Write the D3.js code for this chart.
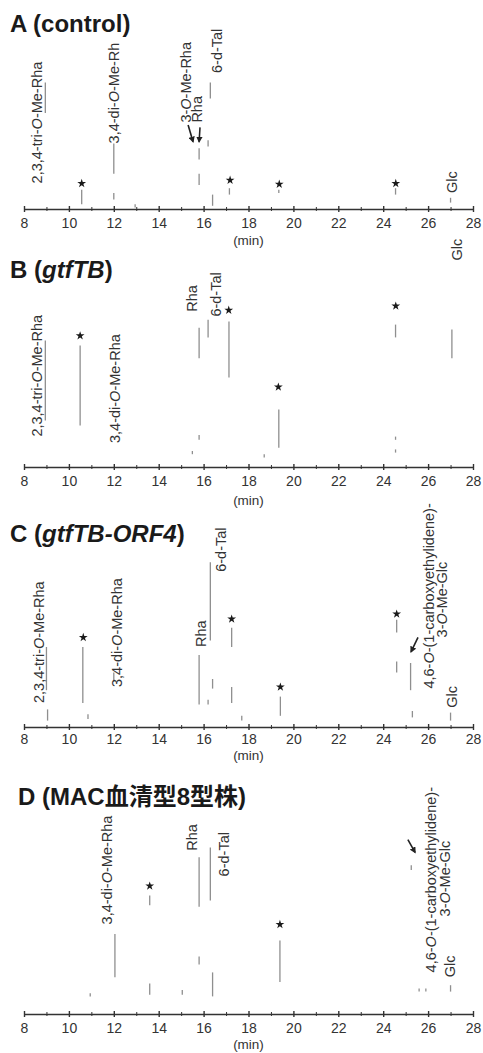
<!DOCTYPE html>
<html>
<head>
<meta charset="utf-8">
<script src="https://cdn.jsdelivr.net/npm/d3@7"></script>
<style>
  body { margin: 0; background: #fff; }
  text { font-family: "Liberation Sans", Arial, "Noto Sans CJK JP", sans-serif; }
</style>
</head>
<body>
<div id="chart"></div>
<script>
// Data
// time axis (min)
const tickValues = [8, 10, 12, 14, 16, 18, 20, 22, 24, 26, 28];
// titles, _x_ = italic
const titles = ["A (control)", "B (_gtfTB_)", "C (_gtfTB-ORF4_)", "D (MAC血清型8型株)"];

// peaks: [time, low, high] visible pieces of each peak trace (relative intensity)
const peaksA = [[8.95, 60, 79], [10.57, 3, 12], [12.0, 22, 41], [12.0, 6, 10], [12.95, 1, 3],
  [15.8, 31, 38], [15.8, 15, 22], [16.2, 39, 43], [16.3, 69, 79], [16.4, 2, 9],
  [17.15, 9, 13], [19.35, 10, 12], [24.55, 9, 13], [27.0, 4, 7]];
const peaksB = [[8.95, 29, 79], [10.5, 26, 76], [15.5, 8, 10], [15.8, 17, 20], [15.8, 68, 87],
  [16.2, 81, 92], [17.13, 56, 91], [18.7, 6, 8], [19.35, 12, 36],
  [24.55, 9, 11], [24.55, 17, 19], [24.55, 81, 89], [27.06, 68, 86]];
const peaksC = [[9.0, 23, 50], [9.05, 4, 11], [10.62, 15, 50], [10.85, 5, 8], [12.0, 29, 34],
  [15.8, 14, 45], [16.2, 14, 17], [16.3, 54, 103], [16.4, 24, 30],
  [17.25, 15, 25], [17.25, 50, 62], [17.7, 4, 7], [19.42, 7, 19],
  [24.6, 34, 41], [24.6, 59, 67], [25.22, 23, 40], [25.3, 6, 10], [27.0, 4, 9]];
const peaksD = [[10.95, 11, 13], [12.05, 23, 50], [13.6, 12, 19], [13.6, 68, 74], [15.05, 12, 15],
  [15.8, 31, 36], [15.8, 67, 98], [16.3, 71, 104], [16.4, 11, 26], [19.4, 20, 46],
  [25.25, 90, 93], [25.6, 14, 16], [25.9, 14, 16], [27.0, 14, 18]];

// star marks: [time, intensity]
const starsA = [[10.57, 16], [17.18, 18], [19.37, 15.5], [24.56, 16]];
const starsB = [[10.5, 82], [17.12, 98], [19.33, 50], [24.56, 100.6]];
const starsC = [[10.64, 56], [17.25, 67.5], [19.42, 25], [24.6, 70.6]];
const starsD = [[13.6, 80], [19.4, 56]];

// peak labels: [text, time, intensity]
const labelsA = [["2,3,4-tri-O-Me-Rha", 8.8, 16], ["3,4-di-O-Me-Rh", 12.25, 41],
  ["3-O-Me-Rha", 15.45, 54], ["Rha", 15.93, 54], ["6-d-Tal", 16.82, 85], ["Glc", 27.29, 10]];
const labelsB = [["2,3,4-tri-O-Me-Rha", 8.8, 19], ["3,4-di-O-Me-Rha", 12.28, 15],
  ["Rha", 15.7, 97], ["6-d-Tal", 16.78, 94], ["Glc", 27.5, 129]];
const labelsC = [["2,3,4-tri-O-Me-Rha", 8.9, 15], ["3,4-di-O-Me-Rha", 12.37, 25],
  ["Rha", 16.1, 50], ["6-d-Tal", 17.0, 97], ["4,6-O-(1-carboxyethylidene)-", 26.26, 24],
  ["3-O-Me-Glc", 26.84, 56], ["Glc", 27.29, 12]];
const labelsD = [["3,4-di-O-Me-Rha", 11.92, 56], ["Rha", 15.7, 102], ["6-d-Tal", 17.13, 86],
  ["4,6-O-(1-carboxyethylidene)-", 26.35, 26], ["3-O-Me-Glc", 26.97, 61], ["Glc", 27.2, 23]];

// arrows: [time0, intensity0, time1, intensity1]
const arrowsA = [[15.31, 52.5, 15.53, 42], [15.84, 51, 15.8, 42]];
const arrowsB = [];
const arrowsC = [[25.55, 56, 25.24, 47]];
const arrowsD = [[25.1, 109, 25.42, 101]];

// layout of the four panels
const width = 483, height = 1053;
const layout = [
  {axisY: 209, tickY: 19, minY: 245, titleX: 10, titleY: 32},
  {axisY: 467, tickY: 19, minY: 505, titleX: 10, titleY: 278},
  {axisY: 727, tickY: 17, minY: 760, titleX: 10, titleY: 542},
  {axisY: 1014, tickY: 19, minY: 1049, titleX: 18, titleY: 805}
];
const panels = [
  {peaks: peaksA, stars: starsA, labels: labelsA, arrows: arrowsA},
  {peaks: peaksB, stars: starsB, labels: labelsB, arrows: arrowsB},
  {peaks: peaksC, stars: starsC, labels: labelsC, arrows: arrowsC},
  {peaks: peaksD, stars: starsD, labels: labelsD, arrows: arrowsD}
];

const svg = d3.select("#chart")
  .append("svg")
    .attr("width", width)
    .attr("height", height)
    .style("background", "#fff");

svg.append("defs").append("marker")
    .attr("id", "head")
    .attr("viewBox", "0 0 10 10")
    .attr("refX", 8).attr("refY", 5)
    .attr("markerWidth", 4).attr("markerHeight", 4)
    .attr("orient", "auto")
  .append("path")
    .attr("d", "M0,0L10,5L0,10z")
    .attr("fill", "#222");

const x = d3.scaleLinear().domain([8, 28]).range([24, 473]);

// italic "O" in the sugar names
function addLabelText(sel, str) {
  str.split(/(?<=-)(O)(?=-)/).forEach(part => {
    sel.append("tspan").text(part)
      .attr("font-style", part === "O" ? "italic" : null);
  });
}

panels.forEach((p, i) => {
  const L = layout[i];
  const y = d3.scaleLinear().domain([0, 100]).range([L.axisY, L.axisY - 160]);
  const g = svg.append("g");

  // title
  const t = g.append("text")
    .attr("x", L.titleX).attr("y", L.titleY)
    .attr("font-size", 24).attr("font-weight", "bold").attr("fill", "#1a1a1a");
  titles[i].split("_").forEach((part, k) => {
    t.append("tspan").text(part).attr("font-style", k % 2 ? "italic" : null);
  });

  // peak traces
  g.append("g")
    .selectAll("line")
    .data(p.peaks)
    .join("line")
      .attr("x1", d => x(d[0])).attr("x2", d => x(d[0]))
      .attr("y1", d => y(d[1])).attr("y2", d => y(d[2]))
      .attr("stroke", "#8f8f8f")
      .attr("stroke-width", 1.3);

  // stars
  g.append("g")
    .selectAll("path")
    .data(p.stars)
    .join("path")
      .attr("transform", d => `translate(${x(d[0])},${y(d[1])})`)
      .attr("d", d3.symbol(d3.symbolStar, 24))
      .attr("fill", "#1a1a1a");

  // arrows
  g.append("g")
    .selectAll("line")
    .data(p.arrows)
    .join("line")
      .attr("x1", d => x(d[0])).attr("y1", d => y(d[1]))
      .attr("x2", d => x(d[2])).attr("y2", d => y(d[3]))
      .attr("stroke", "#222")
      .attr("stroke-width", 1.6)
      .attr("marker-end", "url(#head)");

  // labels
  g.append("g")
    .selectAll("text")
    .data(p.labels)
    .join("text")
      .attr("transform", d => `translate(${x(d[1])},${y(d[2])}) rotate(-90)`)
      .attr("font-size", 14.5)
      .attr("fill", "#333")
      .each(function(d) { addLabelText(d3.select(this), d[0]); });

  // x axis
  const ax = g.append("g")
    .attr("transform", `translate(0,${L.axisY})`)
    .call(d3.axisBottom(x).tickValues(tickValues).tickSize(4).tickSizeOuter(0).tickFormat(d3.format("d")));
  ax.select(".domain").attr("stroke", "#333").attr("stroke-width", 1.6);
  ax.selectAll(".tick line").attr("y1", -3).attr("y2", 3).attr("stroke", "#333").attr("stroke-width", 1.4);
  ax.selectAll(".tick text")
    .attr("y", L.tickY).attr("dy", 0)
    .attr("font-size", 14)
    .attr("font-family", "Liberation Sans, Arial, sans-serif")
    .attr("fill", "#333");
  // minor ticks
  g.append("g")
    .attr("transform", `translate(0,${L.axisY})`)
    .call(d3.axisBottom(x).tickValues(d3.range(9, 28, 2)).tickSize(2).tickSizeOuter(0).tickFormat(""))
    .call(s => s.select(".domain").remove())
    .selectAll(".tick line").attr("y1", -2).attr("stroke", "#333");

  g.append("text")
    .attr("x", x(18)).attr("y", L.minY)
    .attr("text-anchor", "middle")
    .attr("font-size", 13.5)
    .attr("fill", "#333")
    .text("(min)");
});
</script>
</body>
</html>
